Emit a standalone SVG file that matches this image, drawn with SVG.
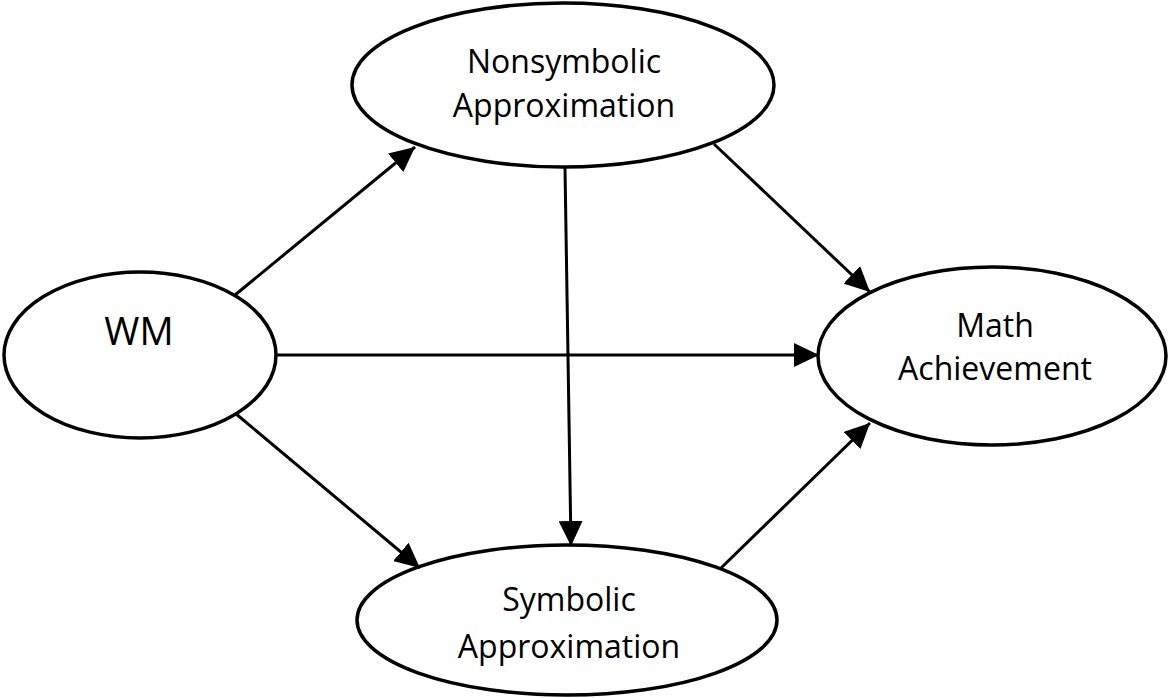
<svg xmlns="http://www.w3.org/2000/svg" width="1169" height="698" viewBox="0 0 1169 698">
<style>
.node ellipse{fill:#fff;stroke:#000;stroke-width:3.5}
.node text{font-family:"Open Sans","Liberation Sans",sans-serif;font-size:32px;fill:#000;text-anchor:middle}
.conn line{stroke:#000;stroke-width:3;marker-end:url(#arr)}
</style>
<defs>
<marker id="arr" markerUnits="userSpaceOnUse" markerWidth="25" markerHeight="24" refX="25" refY="12" orient="auto">
<path d="M0,0 L25,12 L0,24 Z" fill="#000"/>
</marker>
</defs>
<rect width="1169" height="698" fill="#fff"/>
<g id="nonsymbolic" class="node">
<ellipse cx="563" cy="85" rx="211" ry="82"/>
<text x="564" y="73">Nonsymbolic</text>
<text x="564" y="117">Approximation</text>
</g>
<g id="wm" class="node">
<ellipse cx="140" cy="355" rx="136" ry="83"/>
<text x="139" y="345" style="font-size:38px">WM</text>
</g>
<g id="math" class="node">
<ellipse cx="992" cy="356" rx="174" ry="89"/>
<text x="995" y="337">Math</text>
<text x="995" y="380">Achievement</text>
</g>
<g id="symbolic" class="node">
<ellipse cx="567" cy="620" rx="210" ry="75"/>
<text x="569" y="611">Symbolic</text>
<text x="569" y="658">Approximation</text>
</g>
<g id="connectors" class="conn">
<line x1="235" y1="295" x2="415" y2="147"/>
<line x1="714" y1="144" x2="870" y2="292"/>
<line x1="277" y1="355" x2="819" y2="355"/>
<line x1="565" y1="168" x2="571" y2="546"/>
<line x1="235" y1="413" x2="420" y2="568"/>
<line x1="720" y1="569" x2="870" y2="423"/>
</g>
</svg>
